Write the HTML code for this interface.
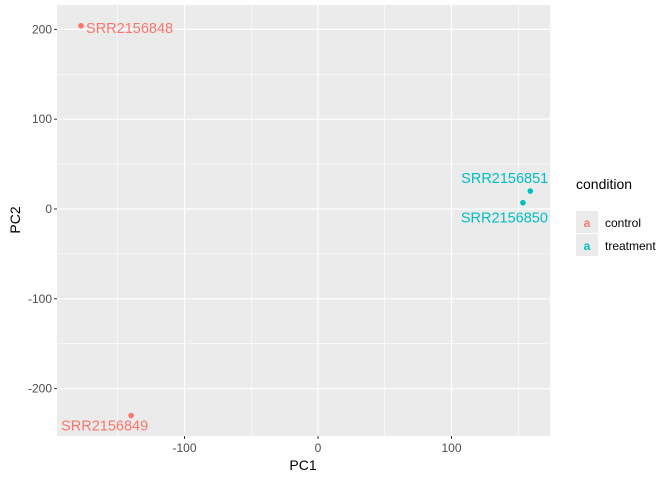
<!DOCTYPE html>
<html><head><meta charset="utf-8"><style>
body{margin:0;background:#fff;font-family:"Liberation Sans",Arial,sans-serif}
svg text{font-family:"Liberation Sans",Arial,sans-serif}
</style></head><body>
<svg id="c" width="672" height="480" xmlns="http://www.w3.org/2000/svg">
<rect x="57" y="5" width="493" height="431" fill="#ebebeb"/>
<g id="grid"></g><g id="axes"></g><g id="pts"></g>
<text x="303" y="470" font-size="14" text-anchor="middle" fill="#000">PC1</text>
<text x="20" y="220" font-size="14" text-anchor="middle" fill="#000" transform="rotate(-90 20 220)">PC2</text>
<g>
<text x="576" y="189" font-size="14" fill="#000">condition</text>
<rect x="576" y="211" width="22" height="22" fill="#ebebeb"/>
<rect x="576" y="234" width="22" height="22" fill="#ebebeb"/>
<text x="587" y="227" font-size="12" font-weight="bold" text-anchor="middle" fill="#F8766D">a</text>
<text x="587" y="250" font-size="12" font-weight="bold" text-anchor="middle" fill="#00BFC4">a</text>
<text x="605" y="227" font-size="12" fill="#000">control</text>
<text x="605" y="250" font-size="12" fill="#000">treatment</text>
</g>
</svg>
<script>
const samples=["SRR2156848","SRR2156849","SRR2156850","SRR2156851"];
const pc1=[-177.5,-140,153.5,159];
const pc2=[204,-230,7,20];
const conds=["control","control","treatment","treatment"];
const xTicks=[-100,0,100];
const yTicks=[-200,-100,0,100,200];
const xMinor=[-150,-50,50,150];
const yMinor=[-150,-50,50,150];
const colors={control:"#F8766D",treatment:"#00BFC4"};
const L=57,R=550,T=5,B=436;
const sx=v=>318+v*1.335, sy=v=>209-v*0.898;
const NS="http://www.w3.org/2000/svg";
function mk(p,tag,a){const e=document.createElementNS(NS,tag);for(const k in a)e.setAttribute(k,a[k]);document.getElementById(p).appendChild(e);return e;}
xMinor.forEach(v=>{const e=mk("grid","line",{x1:sx(v),x2:sx(v),y1:T,y2:B,stroke:"#fff","stroke-width":0.6});

});
yMinor.forEach(v=>{const e=mk("grid","line",{x1:L,x2:R,y1:sy(v),y2:sy(v),stroke:"#fff","stroke-width":0.6});

});
xTicks.forEach(v=>{const e=mk("grid","line",{x1:sx(v),x2:sx(v),y1:T,y2:B,stroke:"#fff","stroke-width":1.2});


const t=mk("axes","line",{x1:sx(v),x2:sx(v),y1:B,y2:B+3,stroke:"#333"});


const l=mk("axes","text",{x:sx(v),y:B+16,"font-size":12,"text-anchor":"middle",fill:"#4d4d4d"});l.textContent=v;

});
yTicks.forEach(v=>{const e=mk("grid","line",{x1:L,x2:R,y1:sy(v),y2:sy(v),stroke:"#fff","stroke-width":1.2});


const t=mk("axes","line",{x1:L-3,x2:L,y1:sy(v),y2:sy(v),stroke:"#333"});


const l=mk("axes","text",{x:L-5,y:sy(v)+4,"font-size":12,"text-anchor":"end",fill:"#4d4d4d"});l.textContent=v;

});
const lblOff=[[5,7,"start"],[-70,15,"start"],[25,20,"end"],[18,-8,"end"]];
samples.forEach((s,i)=>{const c=colors[conds[i]];
const p=mk("pts","circle",{cx:sx(pc1[i]),cy:sy(pc2[i]),r:2.8,fill:c});


const o=lblOff[i];
const t=mk("pts","text",{x:sx(pc1[i])+o[0],y:sy(pc2[i])+o[1],"font-size":14.5,"text-anchor":o[2],fill:c});t.textContent=s;

});
</script>
</body></html>
